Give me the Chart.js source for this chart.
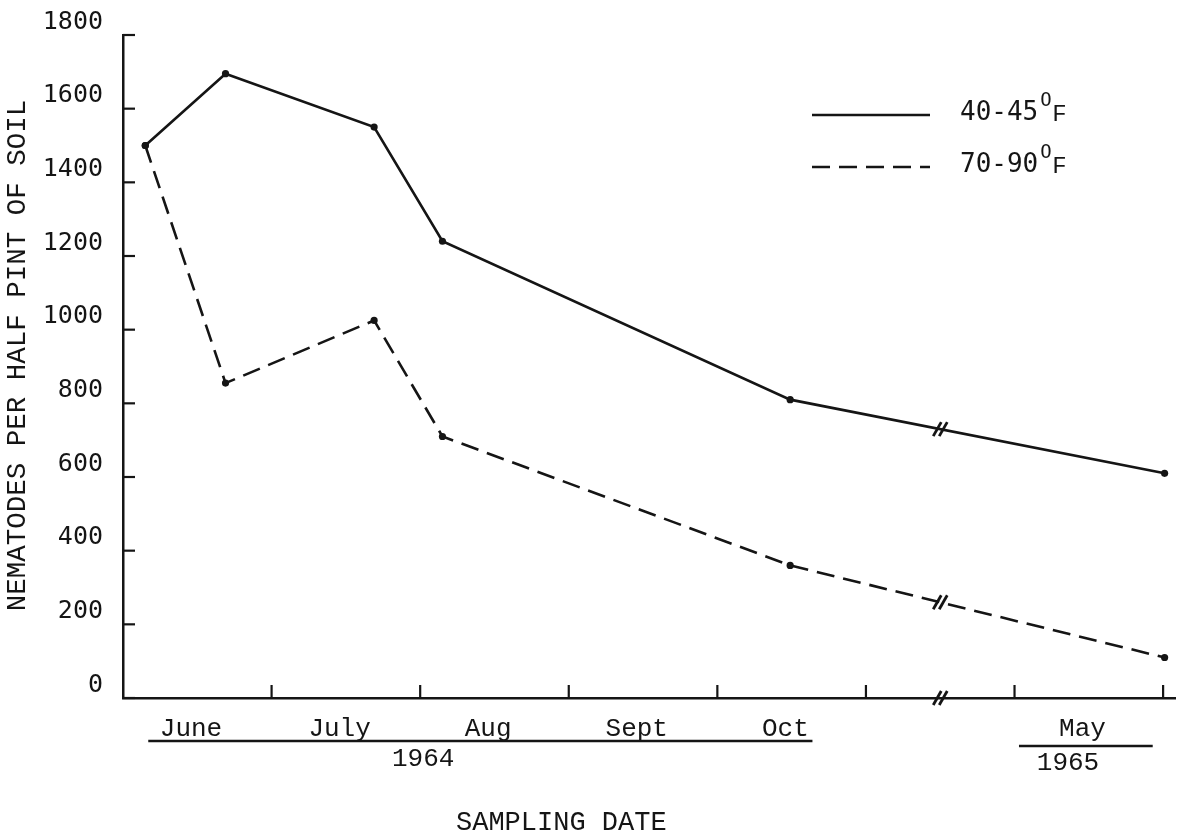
<!DOCTYPE html>
<html>
<head>
<meta charset="utf-8">
<script src="https://cdn.jsdelivr.net/npm/chart.js@4.4.0/dist/chart.umd.min.js"></script>
<style>
  html, body { margin: 0; padding: 0; background: #fff; }
  .container-chart { position: relative; width: 1185px; height: 838px; }
</style>
</head>
<body>
<div class="container-chart"><canvas id="myChart"></canvas></div>
<script>
// sampling dates in months from 1 June 1964 (axis is broken between Oct and May)
const sampleMonths = [0.15, 0.69, 1.69, 2.15, 4.49, 7.01];
const cold = [1500, 1695, 1550, 1240, 810, 610];   // 40-45 F
const warm = [1500, 855, 1025, 710, 360, 110];     // 70-90 F
const seriesNames = ['40-45', '70-90'];
const monthLabels = ['June', 'July', 'Aug', 'Sept', 'Oct', '', 'May', ''];
const breakAt = 5.5;
const xTitle = 'SAMPLING DATE';
const yTitle = 'NEMATODES PER HALF PINT OF SOIL';

const ink = '#151515';
const monoText = 'Liberation Mono';
const monoDigits = 'DejaVu Sans Mono';

// draws the typewriter-style bits: inner ticks, breaks, year bars, titles, legend
const paperPlugin = {
  id: 'paper',
  afterDraw(chart) {
    const { ctx } = chart;
    const xs = chart.scales.x;
    const ys = chart.scales.y;
    ctx.save();
    ctx.strokeStyle = ink;
    ctx.fillStyle = ink;
    ctx.lineWidth = 2.2;

    // ticks pointing into the plot
    ys.ticks.forEach(t => {
      const py = ys.getPixelForValue(t.value);
      ctx.beginPath();
      ctx.moveTo(xs.left, py);
      ctx.lineTo(xs.left + 12, py);
      ctx.stroke();
    });
    xs.ticks.forEach(t => {
      if (t.value === 0) return;
      const px = xs.getPixelForValue(t.value);
      ctx.beginPath();
      ctx.moveTo(px, ys.bottom);
      ctx.lineTo(px, ys.bottom - 13);
      ctx.stroke();
    });

    // "//" break marks on the axis and on both lines
    const slash = (cx, cy) => {
      ctx.lineWidth = 2.8;
      [-3, 3].forEach(d => {
        ctx.beginPath();
        ctx.moveTo(cx + d - 4, cy + 7);
        ctx.lineTo(cx + d + 4, cy - 7);
        ctx.stroke();
      });
    };
    const bx = xs.getPixelForValue(breakAt);
    slash(bx, ys.bottom);
    [cold, warm].forEach(vals => {
      const i = sampleMonths.length - 2;
      const f = (breakAt - sampleMonths[i]) / (sampleMonths[i + 1] - sampleMonths[i]);
      const v = vals[i] + f * (vals[i + 1] - vals[i]);
      slash(bx, ys.getPixelForValue(v));
    });

    // year bars under the month names
    ctx.lineWidth = 2.5;
    const bar = (a, b, py) => {
      ctx.beginPath();
      ctx.moveTo(xs.getPixelForValue(a), py);
      ctx.lineTo(xs.getPixelForValue(b), py);
      ctx.stroke();
    };
    ctx.font = '26px "' + monoText + '"';
    ctx.textAlign = 'center';
    ctx.textBaseline = 'middle';
    bar(0.17, 4.64, ys.bottom + 43);
    ctx.fillText('1964', xs.getPixelForValue(2.02), ys.bottom + 61);
    bar(6.03, 6.93, ys.bottom + 48);
    ctx.fillText('1965', xs.getPixelForValue(6.36), ys.bottom + 65);

    // axis titles (typed off-centre on the original sheet)
    ctx.font = '27px "' + monoText + '"';
    ctx.fillText(xTitle, xs.getPixelForValue(2.95), ys.bottom + 125);
    ctx.save();
    ctx.translate(18, ys.getPixelForValue(930));
    ctx.rotate(-Math.PI / 2);
    ctx.font = '27.5px "' + monoText + '"';
    ctx.fillText(yTitle, 0, 0);
    ctx.restore();

    // legend
    chart.data.datasets.forEach((ds, k) => {
      const ly = 115 + k * 52;
      ctx.lineWidth = 2.5;
      ctx.setLineDash(ds.borderDash || []);
      ctx.beginPath();
      ctx.moveTo(812, ly);
      ctx.lineTo(930, ly);
      ctx.stroke();
      ctx.setLineDash([]);
      ctx.textAlign = 'left';
      ctx.font = '26px "' + monoDigits + '"';
      ctx.fillText(ds.label, 960, ly - 2);
      const w = ctx.measureText(ds.label).width;
      ctx.font = '19px "' + monoDigits + '"';
      ctx.fillText('O', 960 + w + 2, ly - 14);
      ctx.font = '24px "' + monoText + '"';
      ctx.fillText('F', 960 + w + 14, ly);
    });
    ctx.restore();
  }
};

const ctx = document.getElementById('myChart');
const toPoints = vals => sampleMonths.map((m, i) => ({ x: m, y: vals[i] }));
const lineStyle = {
  borderColor: ink,
  backgroundColor: ink,
  borderWidth: 2.6,
  pointRadius: 3.6,
  pointBorderWidth: 0,
  pointBackgroundColor: ink,
  tension: 0,
  fill: false
};

new Chart(ctx, {
  type: 'line',
  data: {
    datasets: [
      { ...lineStyle, label: seriesNames[0], data: toPoints(cold) },
      { ...lineStyle, label: seriesNames[1], data: toPoints(warm), borderDash: [18, 9] }
    ]
  },
  options: {
    responsive: true,
    maintainAspectRatio: false,
    animation: false,
    layout: { padding: { top: 33, right: 10, left: 0, bottom: 0 } },
    plugins: {
      legend: { display: false },
      tooltip: { enabled: false }
    },
    scales: {
      x: {
        type: 'linear',
        min: 0,
        max: 7.08,
        afterFit: s => { s.height = 140; },
        grid: { display: false, drawTicks: false },
        border: { display: true, color: ink, width: 2.5 },
        ticks: {
          stepSize: 1,
          includeBounds: false,
          autoSkip: false,
          maxRotation: 0,
          labelOffset: 68,
          padding: 16,
          color: ink,
          font: { family: monoText, size: 26 },
          callback: v => monthLabels[v] || ''
        }
      },
      y: {
        min: 0,
        max: 1800,
        afterFit: s => { s.width = 123; },
        grid: { display: false, drawTicks: false },
        border: { display: true, color: ink, width: 2.5 },
        ticks: {
          stepSize: 200,
          padding: 20,
          labelOffset: -13,
          color: ink,
          font: { family: monoDigits, size: 25 },
          callback: v => String(v)
        }
      }
    }
  },
  plugins: [paperPlugin]
});
</script>
</body>
</html>
